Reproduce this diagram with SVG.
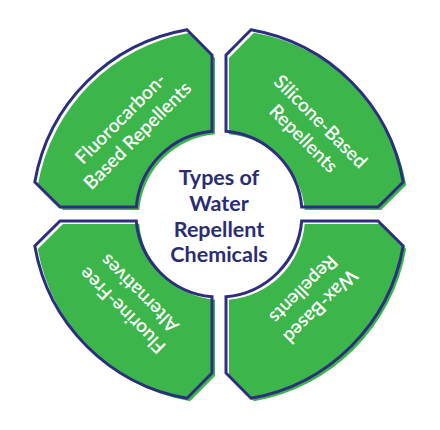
<svg xmlns="http://www.w3.org/2000/svg" xmlns:xlink="http://www.w3.org/1999/xlink" width="440" height="430" viewBox="0 0 440 430">
<style>
.fill{fill:#3cb54a;stroke:none}
.line{fill:none;stroke:#2e2e7e;stroke-width:3;stroke-linejoin:miter}
.lbl{font-family:Lato,"Open Sans",sans-serif;font-size:19px;font-weight:600;fill:#ffffff;text-anchor:middle}
.title{font-family:Lato,"Open Sans",sans-serif;font-size:21.5px;font-weight:700;fill:#2b2d72;text-anchor:middle}
</style>
<defs>
<path id="q" d="M212,131.3 L212,55 L187,29.8 A187,187 0 0 0 34.8,182 L60,207 L136.3,207 A83,83 0 0 1 212,131.3 Z"/>
</defs>
<rect width="440" height="430" fill="#ffffff"/>
<g id="fluorocarbon">
<use xlink:href="#q" href="#q" class="fill" transform="translate(3,3)"/>
<use xlink:href="#q" href="#q" class="line"/>
<text class="lbl" transform="translate(129,127) rotate(-45)"><tspan x="0" y="-5.5">Fluorocarbon-</tspan><tspan x="0" y="18.5">Based Repellents</tspan></text>
</g>
<g id="silicone">
<use xlink:href="#q" href="#q" class="fill" transform="translate(441,3) scale(-1,1)"/>
<use xlink:href="#q" href="#q" class="line" transform="translate(438,0) scale(-1,1)"/>
<text class="lbl" transform="translate(312,130) rotate(45)"><tspan x="0" y="-5.5">Silicone-Based</tspan><tspan x="0" y="18.5">Repellents</tspan></text>
</g>
<g id="fluorine-free">
<use xlink:href="#q" href="#q" class="fill" transform="translate(3,431) scale(1,-1)"/>
<use xlink:href="#q" href="#q" class="line" transform="translate(0,428) scale(1,-1)"/>
<text class="lbl" transform="translate(131,302) rotate(225)"><tspan x="0" y="-5.5">Fluorine-Free</tspan><tspan x="0" y="18.5">Alternatives</tspan></text>
</g>
<g id="wax">
<use xlink:href="#q" href="#q" class="fill" transform="translate(441,431) scale(-1,-1)"/>
<use xlink:href="#q" href="#q" class="line" transform="translate(438,428) scale(-1,-1)"/>
<text class="lbl" transform="translate(312,298) rotate(135)"><tspan x="0" y="-5.5">Wax-Based</tspan><tspan x="0" y="18.5">Repellents</tspan></text>
</g>
<g id="center">
<text class="title"><tspan x="219" y="185">Types of</tspan><tspan x="219" y="211">Water</tspan><tspan x="219" y="237">Repellent</tspan><tspan x="219" y="262">Chemicals</tspan></text>
</g>
</svg>
